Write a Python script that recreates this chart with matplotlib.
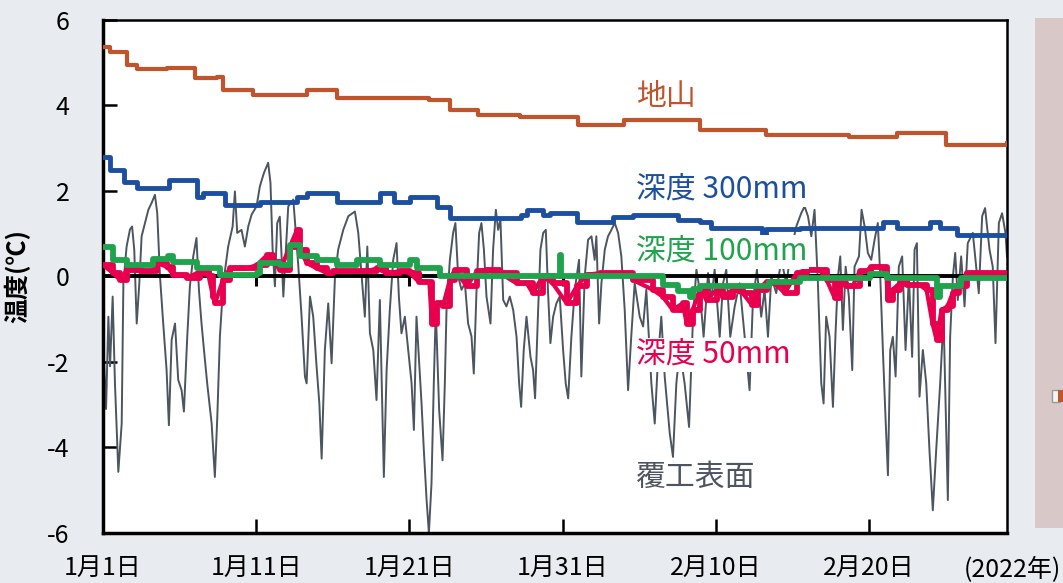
import matplotlib
matplotlib.use("Agg")
import matplotlib.pyplot as plt
from matplotlib.patches import Rectangle

plt.rcParams['font.family'] = ['Noto Sans CJK JP', 'DejaVu Sans']

# 日数 (1月1日 = 0)
surface_day = [0.07, 0.2, 0.35, 0.46, 0.63, 0.78, 1.0, 1.22, 1.33, 1.54, 1.76, 1.9, 2.04, 2.2,
               2.37, 2.52, 2.74, 2.96, 3.17, 3.39, 3.54, 3.72, 3.93, 4.15, 4.3, 4.48, 4.7, 4.91,
               5.13, 5.28, 5.5, 5.67, 5.89, 6.1, 6.26, 6.43, 6.59, 6.8, 7.09, 7.3, 7.46, 7.63,
               7.85, 8.17, 8.46, 8.61, 8.76, 9.04, 9.26, 9.48, 9.7, 10.02, 10.24, 10.5, 10.78,
               10.93, 11.07, 11.22, 11.37, 11.54,
               11.77, 12.09, 12.42, 12.75, 12.96, 13.18, 13.29, 13.51, 13.72, 13.94, 14.12, 14.27,
               14.48, 14.7, 14.92, 15.14, 15.35, 15.68, 16.01, 16.44, 16.66, 16.88, 17.09, 17.25,
               17.42, 17.64, 17.85, 18.07, 18.18, 18.33, 18.51, 18.72, 18.94, 19.16, 19.31, 19.48,
               19.7, 19.92, 20.14, 20.29, 20.46, 20.64, 20.79, 20.94, 21.12, 21.27, 21.44, 21.59,
               21.72, 21.94, 22.16, 22.31, 22.42, 22.64, 22.85, 23.0, 23.18, 23.4,
               23.62, 23.83, 24.05, 24.2, 24.38, 24.55, 24.7, 24.86, 25.03, 25.29, 25.46, 25.64,
               25.79, 25.94, 26.12, 26.33, 26.55, 26.77, 26.99, 27.16, 27.29, 27.46, 27.64, 27.9,
               28.07, 28.2, 28.4, 28.55, 28.73, 28.9, 29.05, 29.2, 29.38, 29.59, 29.81, 30.03,
               30.2, 30.36, 30.57, 30.79, 31.07, 31.22, 31.44, 31.66, 31.88, 32.09, 32.2, 32.38,
               32.53, 32.75, 32.96, 33.18, 33.4, 33.62, 33.83, 34.05, 34.27, 34.49, 34.7, 35.03,
               35.25, 35.46, 35.79, 36.01, 36.23, 36.44, 36.66, 36.99, 37.2, 37.42, 37.64, 37.96,
               38.25, 38.51, 38.73, 38.94, 39.2, 39.49, 39.7, 39.92, 40.25, 40.47, 40.68, 40.94,
               41.23, 41.55, 41.88, 42.2, 42.42, 42.68, 42.96, 43.18, 43.4, 43.62, 43.94, 44.27,
               44.6, 44.92, 45.25, 45.57, 45.79, 46.01, 46.23, 46.44, 46.66,
               46.88, 47.03, 47.2, 47.42, 47.64, 47.81, 47.97, 48.12, 48.29, 48.47, 48.68, 48.9,
               49.05, 49.34, 49.51, 49.71, 49.92, 50.14, 50.36, 50.57, 50.73, 50.9, 51.07, 51.23,
               51.38, 51.55, 51.73, 51.94, 52.16, 52.38, 52.6, 52.81, 52.97, 53.12, 53.29, 53.51,
               53.73, 53.94, 54.16, 54.38, 54.64, 54.86, 55.14, 55.29, 55.47, 55.62, 55.79, 56.01,
               56.23, 56.44, 56.77, 57.16, 57.38, 57.57, 57.86, 58.07, 58.25, 58.47, 58.68, 58.9,
               59.0]
surface_temp = [-2.03, -3.1, -0.94, -2.1, -0.47, -2.5, -4.57, -3.44, -0.16, 0.7, 1.1, 1.17, 0.62, -1.1,
                -0.16, 0.94, 1.25, 1.56, 1.72, 1.91, 1.48, 0.0, -1.1, -2.19, -3.48, -1.48, -1.1, -2.42,
                -2.66, -3.16, -1.4, -0.23, 0.47, 0.9, -0.31, -1.1, -1.72, -2.5, -3.44, -4.69, -3.28, -1.4,
                -0.16, 0.7, 1.17, 1.99, 1.02, 1.09, 0.7, 1.17, 1.45, 1.64, 2.11, 2.42, 2.66,
                2.19, 0.63, -0.23, 1.25, 1.4,
                -0.47, 1.64, 1.8, 0.23, -0.94, -2.34, -2.5, -0.47, -0.94, -2.11, -2.97, -4.26,
                -1.72, -0.63, -2.03, 0.0, 0.63, 1.09, 1.41, 1.52, 1.02, 0.0, -0.94, 0.7,
                -1.33, -1.72, -2.89, -0.55, -2.34, -4.69, -2.19, -0.78, 0.39, 0.78, -0.47, -1.33,
                -0.94, -1.72, -2.5, -3.59, -0.94, -2.03, -2.97, -4.06, -5.23, -6.0, -4.84, -2.5,
                -0.78, -3.13, -4.3, -2.5, -0.78, 0.39, 1.02, 1.25, 0.0, -0.31,
                -0.16, -1.1, -1.4, -2.27, -0.31, 1.02, 1.25, 0.63, -0.47, -1.1, 0.63, 1.56,
                1.09, 1.33, -0.55, -0.7, -0.47, -0.78, -1.41, -2.5, -3.05, -1.72, -0.94, -1.88,
                -2.19, -2.85, -0.78, 0.63, 1.02, 1.09, -0.39, -1.56, -0.94, -0.63, -0.47, -1.72,
                -2.5, -2.85, -1.41, -0.31, 0.39, -2.34, 0.0, 0.86, 0.94, 0.39, 0.94, -1.1,
                -0.16, 0.63, 0.94, 1.09, 1.25, 1.02, 0.47, -0.78, -2.66, -1.33, -0.16, -0.94,
                -1.17, -0.31, -2.5, -3.44, -1.88, -0.94, -2.34, -3.67, -4.22, -2.5, -1.72, -2.5,
                -3.52, -0.94, 0.16, -0.31, -1.41, 0.08, -0.55, 0.16, -1.41, -0.16, 0.16, -1.41,
                -0.7, -0.16, -1.41, -2.66, -0.55, 0.16, -0.94, -0.31, -1.41, 0.0, -0.39, 0.39,
                -0.16, 0.63, 1.17, 1.48, 1.64, 1.41, 0.94, 1.56, -0.16,
                -2.5, -2.97, -0.94, -1.41, -3.05, -1.33, 0.0, 0.47, -1.25, 0.23, -0.47, -2.19,
                0.23, 0.47, 1.56, 1.17, 0.55, 0.39, 0.86, 1.25, 0.0, -1.72, -3.28, -4.65,
                -1.72, -1.41, -2.34, 0.23, 0.47, -1.72, 0.0, -1.88, 0.63, 0.78, -2.81, -1.72,
                -2.5, -4.06, -5.47, -4.06, -2.5, -0.94, -5.23, -1.41, 0.0, 0.55, -0.55, 0.47,
                -0.7, 0.78, 1.02, -0.39, 1.41, 1.6, 0.63, 0.23, -1.56, 1.25, 1.48, 1.02,
                0.47]

d50_day = [0, 0.65, 1.11, 1.57, 2.5, 3.2, 3.52, 4.17, 4.6, 5.22, 5.48, 6.33, 6.9, 7.18, 7.31,
           7.83, 8.28, 9.39, 10.05, 10.7, 11.09, 11.55, 12.2, 12.66, 12.85, 13.31, 13.96, 14.61,
           15.0, 17.22, 17.87, 18.5, 19.37, 20.03, 20.6, 21.3, 21.46, 21.79, 22.18, 22.64, 22.96,
           23.74, 24.4, 25.05, 25.9, 27.0, 27.66, 28.05, 28.7, 29.35, 30.27, 30.92, 31.57, 32.42,
           34.38, 34.57, 35.88, 36.53, 37.18, 37.83, 38.1, 38.49, 38.94, 39.4, 40.05, 40.44, 41.1,
           41.75, 42.34, 42.73, 43.31, 43.97, 44.49, 45.27, 45.92, 46.77, 47.23, 47.75, 48.08,
           48.5, 48.92, 49.38, 49.84, 50.1, 50.82, 51.14, 51.21, 51.53, 51.99, 52.45, 53.29,
           53.75, 54.14, 54.4, 54.73, 55.12, 55.45, 55.9, 56.36, 59.0]
d50_temp = [0.27, 0.08, -0.08, 0.16, 0.12, 0.12, 0.31, 0.23, 0.04, 0.04, -0.04, 0.12, 0.0, -0.47, -0.63,
            -0.08, 0.19, 0.19, 0.27, 0.5, 0.35, 0.16, 0.7, 1.09, 0.62, 0.31, 0.19, 0.08,
            0.12, 0.12, 0.19, 0.08, 0.12, 0.08, -0.12, -0.12, -1.1, -0.63, -0.7, -0.08, 0.16,
            -0.23, 0.12, 0.16, 0.08, -0.16, -0.16, -0.39, 0.0, -0.16, -0.63, -0.23, 0.04, 0.08,
            0.08, -0.08, -0.31, -0.47, -0.78, -0.63, -1.1, -0.78, -0.31, -0.55, -0.31, -0.47, -0.31,
            -0.39, -0.66, -0.31, -0.12, -0.2, -0.39, 0.08, 0.16, 0.16, -0.08, -0.5, -0.16,
            -0.23, -0.23, 0.12, 0.12, 0.23, 0.23, 0.0, -0.55, -0.31, -0.16, -0.2, -0.2,
            -0.31, -1.1, -1.48, -0.78, -0.7, -0.39, -0.23, 0.08, 0.08]

d100_day = [0, 0.65, 0.91, 1.57, 3.07, 3.26, 4.24, 4.57, 5.87, 6.13, 7.44, 7.63, 9.13, 10.05, 10.24,
            11.09, 11.55, 12.2, 12.66, 12.85, 13.7, 13.96, 15.0, 15.26, 16.57, 16.6, 17.87, 18.07,
            19.37, 20.03, 20.48, 21.53, 22.0, 29.8, 29.81, 29.9, 36.0, 36.53, 37.5, 38.29, 38.5,
            38.94, 43.31, 43.5, 45.47, 45.5, 50.0, 50.03, 51.14, 51.2, 54.14, 54.4, 54.6, 55.9,
            56.0, 59.0]
d100_temp = [0.7, 0.39, 0.39, 0.27, 0.27, 0.4, 0.47, 0.35, 0.35, 0.19, 0.19, 0.04, 0.04, 0.08, 0.31,
             0.31, 0.27, 0.74, 0.74, 0.47, 0.47, 0.39, 0.39, 0.27, 0.27, 0.39, 0.39, 0.27,
             0.27, 0.39, 0.19, 0.19, 0.02, 0.0, 0.5, 0.0, 0.0, -0.2, -0.35, -0.47, -0.3,
             -0.23, -0.23, -0.12, -0.12, -0.04, -0.04, 0.06, 0.06, -0.04, -0.04, -0.47, -0.23, -0.23,
             -0.04, -0.04]

d300_day = [0, 0.46, 1.4, 2.22, 4.17, 4.3, 6.0, 6.13, 6.52, 7.63, 7.96, 10.05, 10.24, 12.33, 12.66,
            13.31, 15.0, 15.26, 17.87, 18.07, 18.92, 19.0, 19.37, 20.03, 21.46, 21.79, 22.64, 27.2,
            27.25, 27.66, 28.05, 28.7, 29.16, 30.66, 30.92, 33.07, 33.27, 34.57, 34.6, 37.44, 37.5,
            38.49, 38.94, 39.6, 39.65, 42.86, 43.0, 43.3, 45.47, 50.88, 50.9, 51.79, 51.8, 53.95,
            54.0, 54.6, 54.65, 55.71, 55.75, 59.0]
d300_temp = [2.8, 2.5, 2.2, 2.07, 2.07, 2.26, 2.26, 1.86, 1.95, 1.95, 1.67, 1.67, 1.74, 1.74, 1.86,
             1.95, 1.95, 1.74, 1.74, 1.95, 1.95, 1.74, 1.74, 1.86, 1.86, 1.63, 1.37, 1.37,
             1.45, 1.55, 1.55, 1.44, 1.48, 1.48, 1.27, 1.27, 1.4, 1.4, 1.44, 1.44, 1.32,
             1.32, 1.27, 1.27, 1.13, 1.13, 1.0, 1.1, 1.13, 1.13, 1.27, 1.27, 1.13, 1.13,
             1.27, 1.27, 1.13, 1.13, 0.97, 1.02]

ground_day = [0, 0.46, 1.57, 2.22, 4.17, 5.5, 6.0, 7.44, 7.83, 9.39, 9.78, 13.0, 13.3, 15.0, 15.26,
              20.03, 21.3, 22.64, 24.5, 27.2, 31.0, 34.0, 38.94, 43.3, 48.7, 51.8, 55.0, 59.0]
ground_temp = [5.37, 5.25, 4.95, 4.85, 4.87, 4.87, 4.64, 4.66, 4.36, 4.36, 4.25, 4.25, 4.37, 4.37, 4.18,
               4.18, 4.13, 3.9, 3.78, 3.73, 3.55, 3.66, 3.43, 3.31, 3.26, 3.36, 3.08, 3.12]

tick_days = [0, 10, 20, 30, 40, 50]
tick_labels = ['1月1日', '1月11日', '1月21日', '1月31日', '2月10日', '2月20日']

C_GROUND = '#c0542c'
C_300 = '#1c4fa0'
C_100 = '#1fa34c'
C_50 = '#e8004f'
C_SURF = '#4d5560'
BG = '#e8ebf0'

fig = plt.figure(figsize=(10.63, 5.83), dpi=100, facecolor=BG)
ax = fig.add_axes([0.0969, 0.0858, 0.8504, 0.8799])
ax.set_facecolor('white')

ax.plot(surface_day, surface_temp, color=C_SURF, lw=1.4, zorder=2)
ax.axhline(0, color='black', lw=2.8, zorder=3)
ax.vlines(tick_days[1:], -0.22, 0, color='black', lw=2.2, zorder=3)
ax.step(d300_day, d300_temp, where='post', color=C_300, lw=3.5, zorder=4)
ax.step(d50_day, d50_temp, where='post', color=C_50, lw=4.2, zorder=4)
ax.plot(d50_day, d50_temp, color=C_50, lw=3.0, zorder=4)
ax.step(d100_day, d100_temp, where='post', color=C_100, lw=4.2, zorder=5)
ax.step(ground_day, ground_temp, where='post', color=C_GROUND, lw=3.0, zorder=4)

box = dict(facecolor='white', edgecolor='none', pad=1)
lab = dict(fontsize=21.5, va='center', ha='left', zorder=6)
ax.text(34.8, 4.2, '地山', color=C_GROUND, **lab)
ax.text(34.8, 2.02, '深度 300mm', color=C_300, bbox=box, **lab)
ax.text(34.8, 0.57, '深度 100mm', color=C_100, bbox=box, **lab)
ax.text(34.8, -1.84, '深度 50mm', color=C_50, bbox=box, **lab)
ax.text(34.8, -4.69, '覆工表面', color=C_SURF, bbox=box, **lab)

ax.set_xlim(0, 59)
ax.set_ylim(-6, 6)
ax.set_yticks([-6, -4, -2, 0, 2, 4, 6])
ax.set_yticklabels(['-6', '-4', '-2', '0', '2', '4', '6'])
ax.set_xticks(tick_days)
ax.set_xticklabels(tick_labels)
ax.tick_params(axis='both', direction='in', length=10, width=1.8, labelsize=18, colors='black')
ax.tick_params(axis='x', pad=16)
ax.tick_params(axis='y', pad=24)
for s in ax.spines.values():
    s.set_linewidth(1.8)
    s.set_color('black')
ax.spines['left'].set_linewidth(2.5)
ax.spines['bottom'].set_linewidth(2.5)
ax.set_ylabel('温度(℃)', fontsize=18, fontweight='bold', labelpad=12)

fig.text(0.998, 0.0225, '(2022年)', fontsize=18, ha='right', va='center')

# 右側の切れたパネル
fig.patches.append(Rectangle((0.9737, 0.0943), 0.03, 0.874, transform=fig.transFigure,
                             facecolor='#d9c8c8', edgecolor='none'))
fig.patches.append(Rectangle((0.9895, 0.311), 0.008, 0.02, transform=fig.transFigure,
                             facecolor='#f4f4f4', edgecolor='#9a9a9a', lw=1))
fig.patches.append(Rectangle((0.9955, 0.311), 0.006, 0.02, transform=fig.transFigure,
                             facecolor='#c0542c', edgecolor='none'))

fig.savefig('out.png', dpi=100, facecolor=BG)
